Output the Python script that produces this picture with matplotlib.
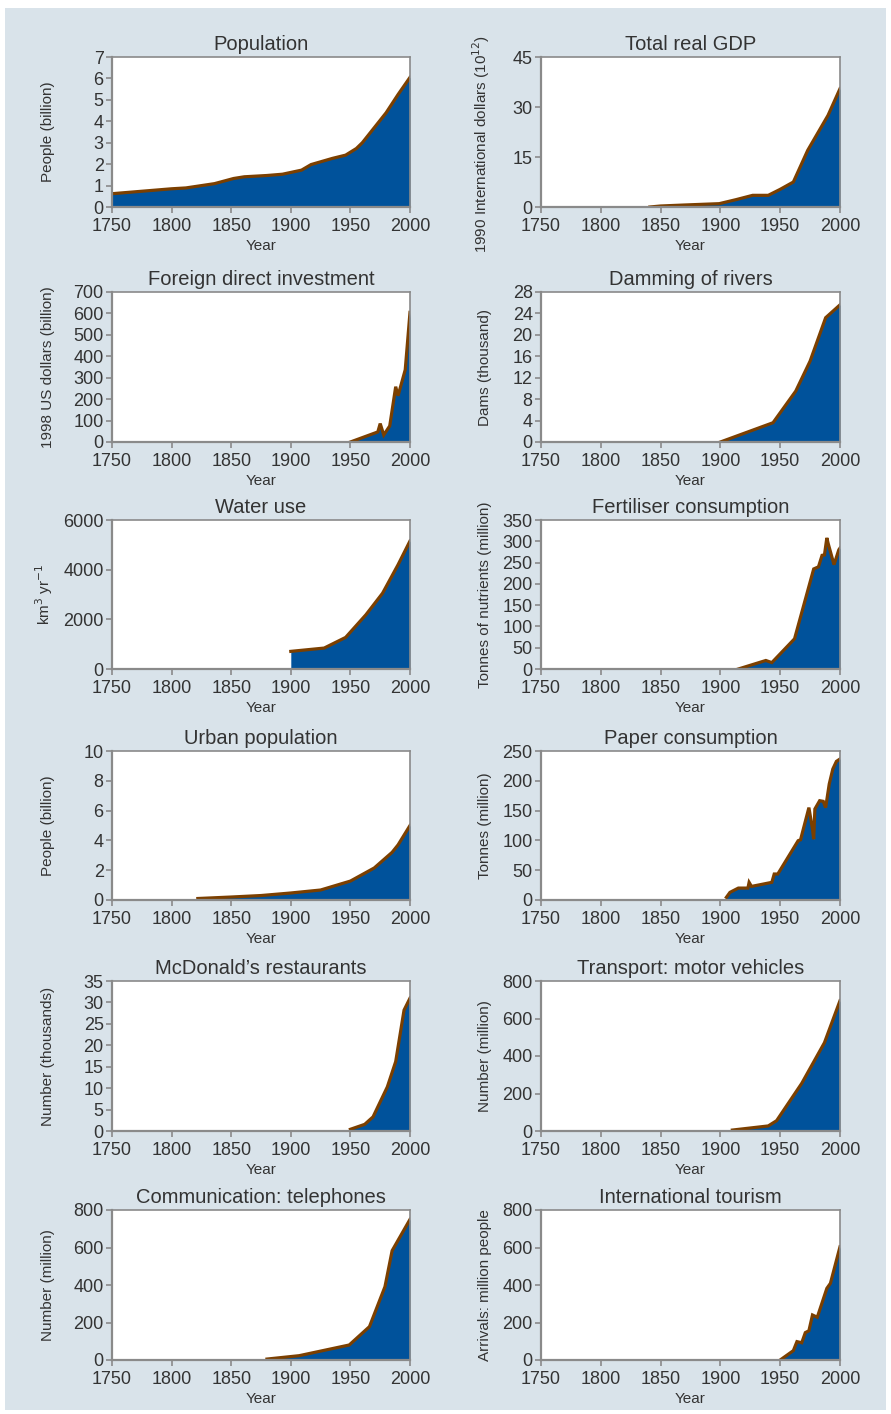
import matplotlib.pyplot as plt
from matplotlib.patches import Rectangle

plt.rcParams['font.family'] = ['Liberation Sans', 'DejaVu Sans']

# Data
pop_years = [1750, 1800, 1812, 1836, 1852, 1861, 1880, 1893, 1909, 1917, 1935, 1946, 1955, 1960, 1970, 1980, 1990, 2000]
pop_values = [0.62, 0.85, 0.89, 1.09, 1.33, 1.41, 1.47, 1.53, 1.72, 1.98, 2.27, 2.42, 2.73, 3.0, 3.7, 4.4, 5.25, 6.05]

gdp_years = [1841, 1850, 1870, 1899, 1913, 1927, 1940, 1950, 1961, 1973, 1990, 2000]
gdp_values = [0.0, 0.3, 0.6, 1.0, 2.2, 3.5, 3.5, 5.3, 7.5, 17.0, 27.5, 35.5]

fdi_years = [1950, 1973, 1975, 1978, 1983, 1988, 1990, 1996, 2000]
fdi_values = [0, 47, 86, 33, 75, 258, 216, 337, 605]

dam_years = [1900, 1944, 1963, 1975, 1988, 2000]
dam_values = [0.0, 3.6, 9.5, 15.1, 23.2, 25.6]

water_years = [1900, 1928, 1946, 1963, 1977, 1990, 2000]
water_values = [710, 843, 1272, 2183, 3053, 4200, 5155]

fert_years = [1915, 1938, 1943, 1962, 1978, 1982, 1985, 1987, 1989, 1990, 1995, 1999, 2000]
fert_values = [0, 20, 15, 71, 235, 240, 267, 268, 308, 296, 245, 280, 284]

urban_years = [1822, 1850, 1875, 1900, 1925, 1950, 1970, 1985, 1990, 2000]
urban_values = [0.1, 0.2, 0.3, 0.47, 0.67, 1.27, 2.15, 3.2, 3.7, 5.0]

paper_years = [1905, 1908, 1915, 1923, 1924, 1926, 1943, 1945, 1948, 1965, 1967, 1974, 1977, 1978, 1979, 1983, 1986, 1988, 1991, 1994, 1997, 2000]
paper_values = [4.5, 12.8, 20, 20, 29.6, 22.8, 29.6, 43.6, 43.6, 99.5, 101, 155, 119, 102, 152.7, 166.6, 165.5, 155, 194.6, 219.8, 232.6, 236.6]

mcd_years = [1950, 1962, 1969, 1981, 1988, 1995, 2000]
mcd_values = [0.4, 1.55, 3.3, 10.3, 16.2, 28.2, 31.0]

car_years = [1910, 1940, 1947, 1968, 1987, 2000]
car_values = [5, 27, 55, 254, 471, 695]

tel_years = [1880, 1907, 1949, 1966, 1979, 1985, 2000]
tel_values = [5, 23, 80, 178, 391, 583, 750]

tour_years = [1950, 1961, 1964, 1968, 1971, 1974, 1977, 1981, 1989, 1992, 2000]
tour_values = [0, 50, 98, 92, 146, 156, 240, 228, 382, 409, 604]

panels = [
    ('Population', 'People (billion)', pop_years, pop_values, 7, 1),
    ('Total real GDP', '1990 International dollars (10$^{12}$)', gdp_years, gdp_values, 45, 15),
    ('Foreign direct investment', '1998 US dollars (billion)', fdi_years, fdi_values, 700, 100),
    ('Damming of rivers', 'Dams (thousand)', dam_years, dam_values, 28, 4),
    ('Water use', 'km$^3$ yr$^{-1}$', water_years, water_values, 6000, 2000),
    ('Fertiliser consumption', 'Tonnes of nutrients (million)', fert_years, fert_values, 350, 50),
    ('Urban population', 'People (billion)', urban_years, urban_values, 10, 2),
    ('Paper consumption', 'Tonnes (million)', paper_years, paper_values, 250, 50),
    ('McDonald\u2019s restaurants', 'Number (thousands)', mcd_years, mcd_values, 35, 5),
    ('Transport: motor vehicles', 'Number (million)', car_years, car_values, 800, 200),
    ('Communication: telephones', 'Number (million)', tel_years, tel_values, 800, 200),
    ('International tourism', 'Arrivals: million people', tour_years, tour_values, 800, 200),
]

W, H = 891, 1414
fig = plt.figure(figsize=(W / 100, H / 100), dpi=100, facecolor='white')
fig.patches.append(Rectangle((5 / W, 4 / H), (W - 10) / W, (H - 12) / H,
                             transform=fig.transFigure, facecolor='#d9e3ea',
                             edgecolor='none', zorder=-10))

col_left = [112, 541]
col_width = [298, 299]
rows = [(57, 207), (292, 442), (520, 669), (751, 900), (981, 1131), (1210, 1360)]
txt = '#333333'
spine = '#8a8a8a'

for i, (title, ylabel, xs, ys, ymax, ystep) in enumerate(panels):
    r, c = divmod(i, 2)
    top, bot = rows[r]
    ax = fig.add_axes([col_left[c] / W, 1 - bot / H, col_width[c] / W, (bot - top) / H])
    ax.set_facecolor('white')
    ax.fill_between(xs, ys, 0, color='#00529b', lw=0)
    ax.plot(xs, ys, color='#7b3f00', lw=2.3, solid_joinstyle='miter')
    ax.set_xlim(1750, 2000)
    ax.set_ylim(0, ymax)
    ax.set_xticks(range(1750, 2001, 50))
    ax.set_yticks(range(0, ymax + 1, ystep))
    for s in ax.spines.values():
        s.set_color(spine)
        s.set_linewidth(1.2)
    ax.spines['left'].set_linewidth(1.6)
    ax.spines['bottom'].set_linewidth(1.6)
    ax.tick_params(direction='out', length=4, width=1.2, color=spine,
                   labelcolor=txt, labelsize=13, pad=2)
    ax.tick_params(axis='x', pad=4)
    ax.set_title(title, fontsize=14.5, color=txt, pad=5)
    ax.set_xlabel('Year', fontsize=11, color=txt, labelpad=3)
    ax.set_ylabel(ylabel, fontsize=11, color=txt)
    # the long GDP label sits a bit lower in the original
    ax.yaxis.set_label_coords(-0.19 if c == 0 else -0.164, 0.42 if i == 1 else 0.5)

plt.savefig('out.png', dpi=100, facecolor='white')
